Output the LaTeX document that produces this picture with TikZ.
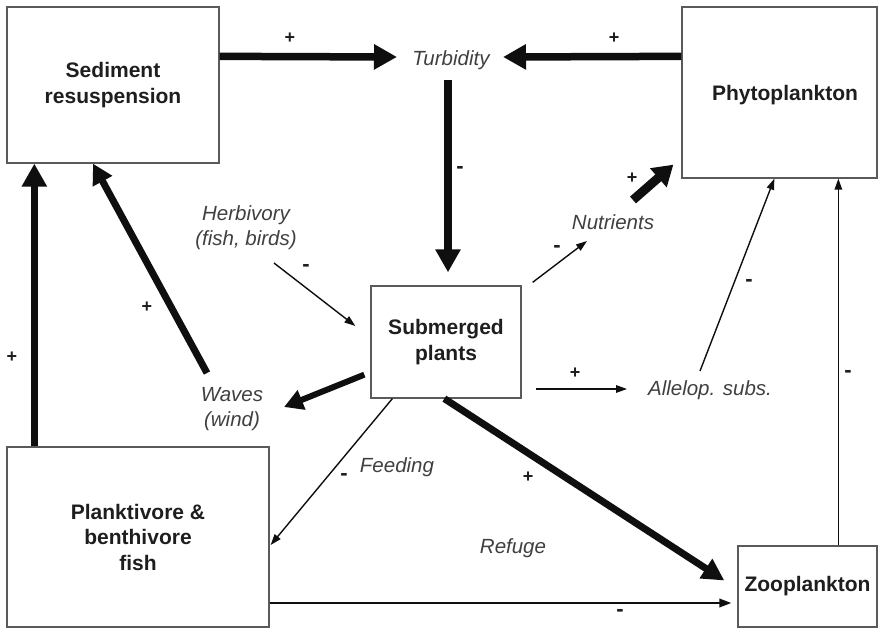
\documentclass[tikz,border=0pt]{standalone}
\usepackage{fontspec}
\setmainfont{Liberation Sans}
\usetikzlibrary{arrows.meta,calc}
\definecolor{boxgray}{HTML}{5A5A5A}
\definecolor{txt}{HTML}{1E1E1E}
\definecolor{arr}{HTML}{0F0F0F}
\begin{document}
\begin{tikzpicture}[x=1pt,y=-1pt,
  box/.style={draw=boxgray,line width=1.3pt,fill=white,align=center,
    font=\bfseries\fontsize{21}{25.5}\selectfont,text=txt,inner sep=0pt},
  lbl/.style={font=\itshape\fontsize{20.5}{25}\selectfont,text=txt!85,align=center,inner sep=0pt},
  sgn/.style={font=\bfseries\fontsize{18}{18}\selectfont,text=txt,inner sep=0pt},
  msgn/.style={font=\bfseries\fontsize{22}{22}\selectfont,text=txt,inner sep=0pt},
  thk/.style={draw=arr,line width=7.5pt,-{Triangle[length=23pt,width=24pt]}},
  mthk/.style={draw=arr,line width=6.5pt,-{Triangle[length=20pt,width=21pt]}},
  thn/.style={draw=arr,line width=1.4pt,-{Triangle[length=11pt,width=7.5pt]}},
  mthn/.style={draw=arr,line width=2pt,-{Triangle[length=12pt,width=8.5pt]}},
]
\fill[white] (0,0) rectangle (878,628);
\useasboundingbox (0,0) rectangle (878,628);

% boxes
\node[box,minimum width=212pt,minimum height=156pt] (sed) at (113,85) {Sediment\\resuspension};
\node[box,minimum width=195pt,minimum height=171pt] (phy) at (779.5,92.5) {};
\node[font=\bfseries\fontsize{21}{25.5}\selectfont,text=txt,inner sep=0pt] (phyt) at (785,95) {Phytoplankton};
\node[box,minimum width=150pt,minimum height=112pt] (sub) at (446,342) {Submerged\\plants};
\node[box,minimum width=262pt,minimum height=180pt] (pla) at (138,537) {Planktivore \&\\benthivore\\fish};
\node[box,minimum width=139pt,minimum height=81pt] (zoo) at (807.5,586.5) {Zooplankton};

% italic labels
\node[lbl] (turb) at (451,60) {Turbidity};
\node[lbl] (nut) at (613,222) {Nutrients};
\node[lbl] (all) at (710,390) {Allelop. subs.};
\node[lbl] (herb) at (246,228) {Herbivory\\(fish, birds)};
\node[lbl] (waves) at (232,409) {Waves\\(wind)};
\node[lbl] (feed) at (397,467) {Feeding};
\node[lbl] (ref) at (513,548) {Refuge};

% connectors
\draw[thk] ($(sed.north east)+(0,50)$) -- ($(turb)+(-54,-3)$);
\draw[thk] ($(phy.north west)+(0,50)$) -- ($(turb)+(52,-3)$);
\draw[thk] ($(turb)+(-3,20)$) -- ($(sub.north)+(2,-13)$);
\draw[thn] ($(herb)+(28,35)$) -- ($(sub.west)+(-15,-16)$);
\draw[mthk,line width=6pt,-{Triangle[length=19pt,width=20pt]}] ($(sub.south west)+(-6,-24)$) -- ($(waves)+(52,-2)$);
\draw[mthk,line width=7pt] ($(waves)+(-25,-36)$) -- ($(sed.south)+(-20,0)$);
\draw[thk,line width=7pt] ($(pla.north west)+(28,0)$) -- ($(sed.south west)+(28,0)$);
\draw[thn] ($(sub.north east)+(11,-3)$) -- ($(nut)+(-26,19)$);
\draw[mthk,line width=9pt,-{Triangle[length=20pt,width=24pt]}] ($(nut)+(20,-22)$) -- ($(phy.south west)+(-8,-14)$);
\draw[thn] ($(sub.east)+(14,47)$) -- ($(all)+(-83,-1)$);
\draw[thn] ($(all)+(-10,-19)$) -- ($(phy.south west)+(93,0)$);
\draw[thn] ($(zoo.north west)+(101,0)$) -- ($(phy.south west)+(157,0)$);
\draw[thn] ($(sub.south west)+(22,0)$) -- ($(pla.east)+(1,8)$);
\draw[thk,line width=7pt,-{Triangle[length=22pt,width=22pt]}] ($(sub.south west)+(74,0)$) -- ($(zoo.west)+(-13,-6)$);
\draw[mthn] ($(pla.east)+(0,66)$) -- ($(zoo.west)+(-6,16.5)$);

% signs
\node[sgn] (s1) at (290,38) {+};
\node[sgn] (s2) at (614,38) {+};
\node[msgn] (s3) at (460,170) {-};
\node[msgn] (s4) at (306,268) {-};
\node[sgn] (s5) at (147,307) {+};
\node[sgn] (s6) at (12,357) {+};
\node[msgn] (s7) at (557,249) {-};
\node[sgn] (s8) at (632,178) {+};
\node[sgn] (s9) at (575,373) {+};
\node[msgn] (s10) at (749,283) {-};
\node[msgn] (s11) at (848,374) {-};
\node[msgn] (s12) at (344,477) {-};
\node[sgn] (s13) at (528,477) {+};
\node[msgn] (s14) at (620,613) {-};
\end{tikzpicture}
\end{document}
